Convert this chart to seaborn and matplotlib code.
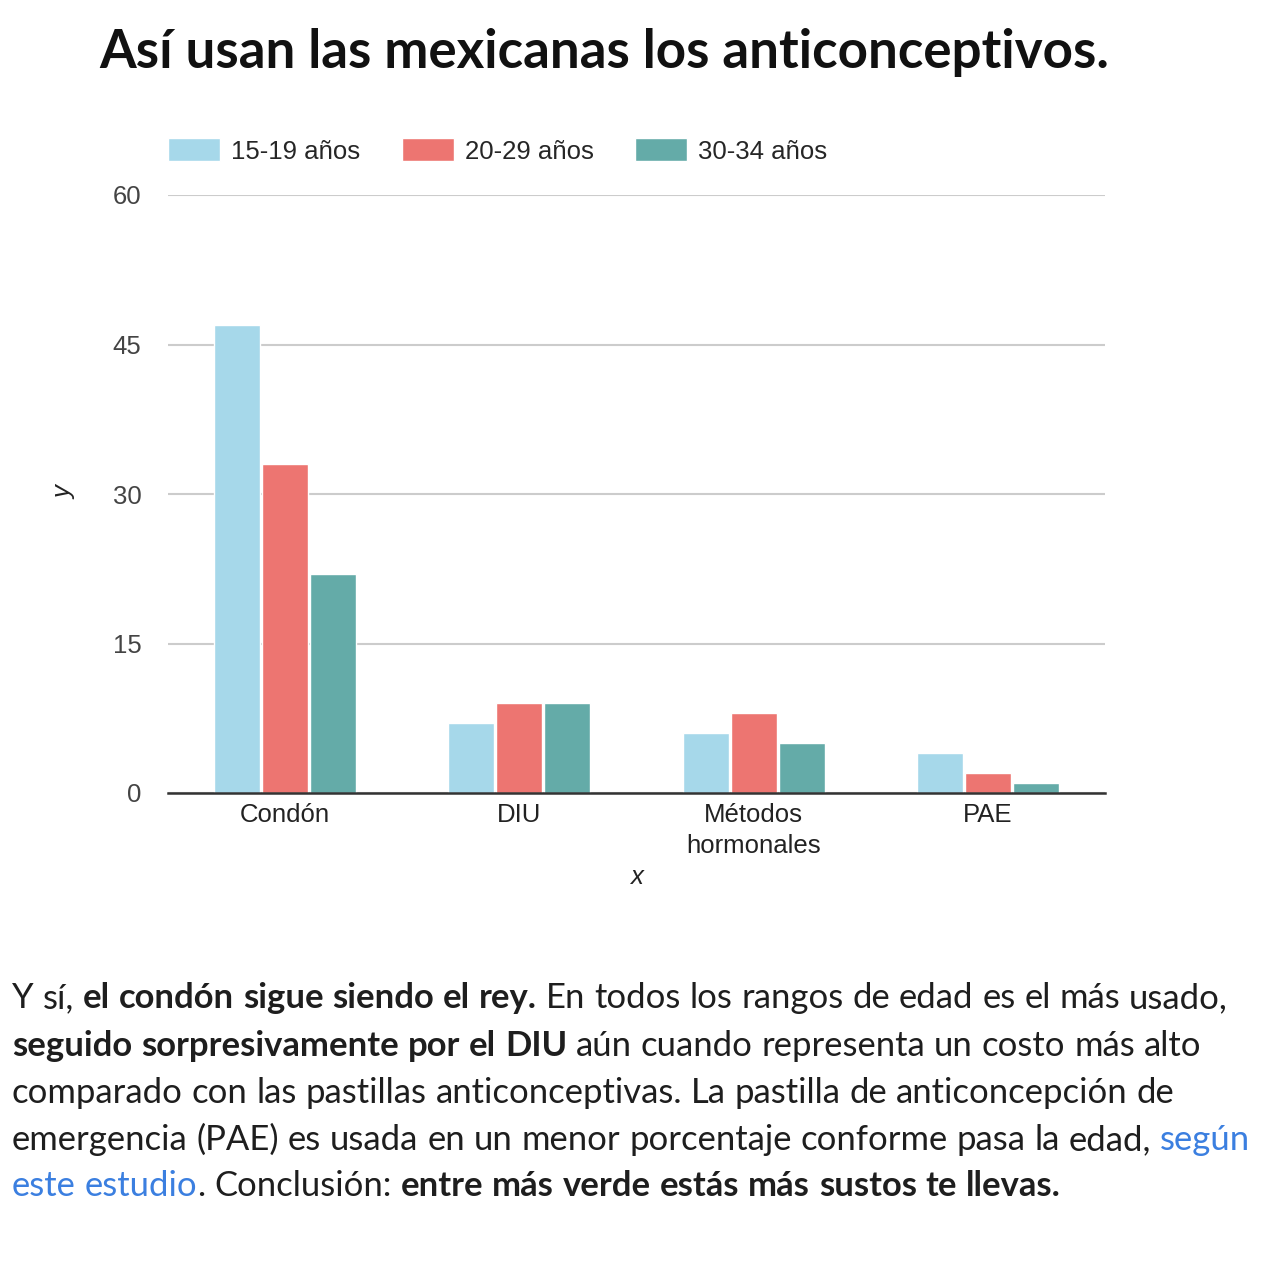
import re
import numpy as np
import pandas as pd
import matplotlib
matplotlib.use("Agg")
import matplotlib.pyplot as plt
import seaborn as sns

# ---- data ----
categories = ["Condón", "DIU", "Métodos\nhormonales", "PAE"]
age_groups = ["15-19 años", "20-29 años", "30-34 años"]
values_15_19 = [47, 7, 6, 4]
values_20_29 = [33, 9, 8, 2]
values_30_34 = [22, 9, 5, 1]
colors = ["#a6d8ea", "#ed7571", "#64aba8"]
y_ticks = [0, 15, 30, 45, 60]

title = "Así usan las mexicanas los anticonceptivos."
paragraph = [
    [("Y sí, ", "n"), ("el condón sigue siendo el rey.", "b"),
     (" En todos los rangos de edad es el más usado,", "n")],
    [("seguido sorpresivamente por el DIU", "b"),
     (" aún cuando representa un costo más alto", "n")],
    [("comparado con las pastillas anticonceptivas. La pastilla de anticoncepción de", "n")],
    [("emergencia (PAE) es usada en un menor porcentaje conforme pasa la edad, ", "n"),
     ("según", "l")],
    [("este estudio", "l"), (". Conclusión: ", "n"),
     ("entre más verde estás más sustos te llevas.", "b")],
]

df = pd.DataFrame({
    "x": categories * 3,
    "y": values_15_19 + values_20_29 + values_30_34,
    "edad": [a for a in age_groups for _ in categories],
})

sns.set_theme(style="white")
plt.rcParams["font.family"] = ["Liberation Sans", "DejaVu Sans"]

W, H = 1274, 1262
fig = plt.figure(figsize=(W / 100, H / 100), dpi=100, facecolor="white")
ax = fig.add_axes([168 / W, 1 - 793 / H, 937 / W, 598 / H])

sns.barplot(data=df, x="x", y="y", hue="edad", palette=colors, saturation=1,
            width=0.615, gap=0.04, ax=ax, errorbar=None)

ax.set_ylim(0, 60)
ax.set_xlim(-0.5, 3.5)
ax.set_yticks(y_ticks)
ax.yaxis.grid(True, color="#cccccc", linewidth=1.5)
ax.set_axisbelow(True)
for s in ["top", "right", "left"]:
    ax.spines[s].set_visible(False)
ax.spines["bottom"].set_color("#333333")
ax.spines["bottom"].set_linewidth(1.8)
ax.spines["bottom"].set_zorder(5)
ax.tick_params(axis="y", length=0, pad=19, labelsize=18.5, labelcolor="#444444")
ax.tick_params(axis="x", length=0, pad=7, labelsize=18.5, labelcolor="#222222")
for lab in ax.get_xticklabels():
    lab.set_linespacing(1.4)

ax.set_xlabel("x", fontsize=18.5, style="italic", color="#222222")
ax.set_ylabel("y", fontsize=18.5, style="italic", color="#222222")
ax.xaxis.set_label_coords(0.5005, -0.1405)
ax.yaxis.set_label_coords(-0.11, 0.503)
ax.xaxis.label.set_va("center")
ax.yaxis.label.set_va("center")

ax.legend(loc="center left", bbox_to_anchor=(0, 1 + 44 / 598), ncol=3,
          frameon=False, fontsize=18.5, handlelength=2.02, handleheight=1.0,
          handletextpad=0.43, columnspacing=1.62, borderpad=0, borderaxespad=0)

renderer = fig.canvas.get_renderer()

# ---- title ----
tfont = ["Lato", "DejaVu Sans"]
t = fig.text(604 / W, 1 - 68 / H, title, ha="center", va="baseline",
             fontsize=30, fontweight="bold", family=tfont, color="#111111")
tw = t.get_window_extent(renderer).width
t.set_fontsize(30 * 1008 / tw)

# ---- paragraph ----
pfont = ["Lato", "DejaVu Sans"]
styles = {
    "n": dict(fontweight="normal", color="#1e1e1e"),
    "b": dict(fontweight="bold", color="#1e1e1e"),
    "l": dict(fontweight="normal", color="#3b7fe0"),
}


def measure(txt, style, size):
    tt = fig.text(0, 0, txt, fontsize=size, family=pfont, **styles[style])
    w = tt.get_window_extent(renderer).width
    tt.remove()
    return w


def line_width(line, size):
    sp = measure("a a", "n", size) - measure("aa", "n", size)
    total = 0
    for txt, st in line:
        for tok in re.findall(r"\S+|\s+", txt):
            total += sp * len(tok) if tok.isspace() else measure(tok, st, size)
    return total


base = 20
psize = base * 1213 / line_width(paragraph[0], base)
space_w = measure("a a", "n", psize) - measure("aa", "n", psize)
baselines = [1008, 1056, 1103, 1150, 1196]
for line, yb in zip(paragraph, baselines):
    x = 12
    for txt, st in line:
        for tok in re.findall(r"\S+|\s+", txt):
            if tok.isspace():
                x += space_w * len(tok)
                continue
            tt = fig.text(x / W, 1 - yb / H, tok, fontsize=psize, family=pfont,
                          ha="left", va="baseline", **styles[st])
            x += tt.get_window_extent(renderer).width

fig.savefig("out.png", dpi=100, facecolor="white")
